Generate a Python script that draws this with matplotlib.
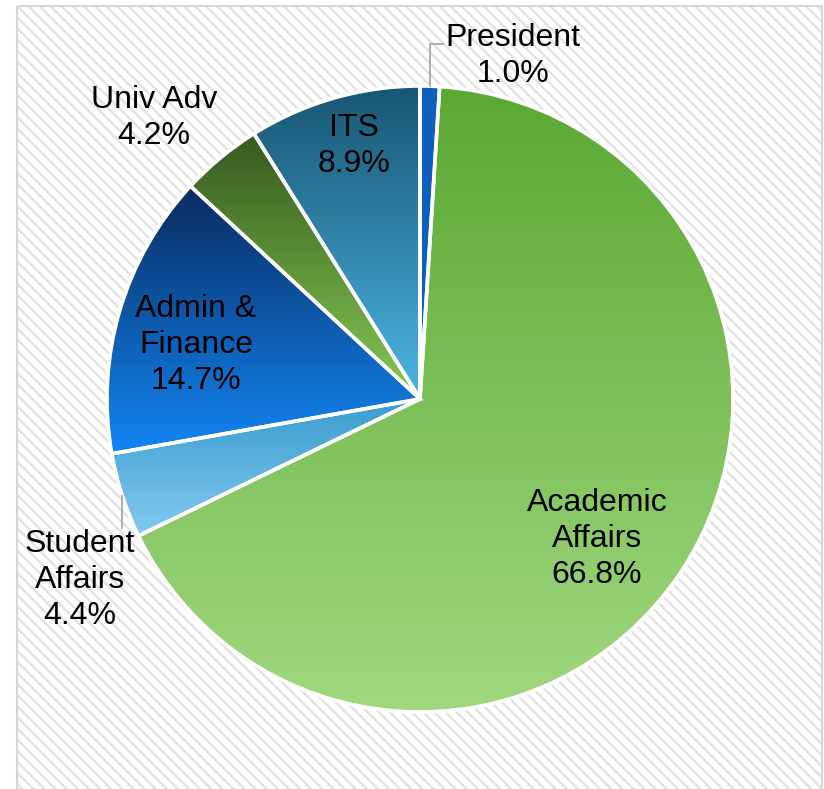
import numpy as np
import matplotlib
matplotlib.use('Agg')
import matplotlib.pyplot as plt
from matplotlib.colors import LinearSegmentedColormap
from matplotlib.patches import Rectangle

plt.rcParams['font.family'] = ['Liberation Sans', 'DejaVu Sans']
plt.rcParams['hatch.linewidth'] = 1.7

# ---- data ----
divisions = ['President', 'Academic Affairs', 'Student Affairs',
             'Admin & Finance', 'Univ Adv', 'ITS']
shares = [1.0, 66.8, 4.4, 14.7, 4.2, 8.9]
label_names = ['President', 'Academic\nAffairs', 'Student\nAffairs',
               'Admin &\nFinance', 'Univ Adv', 'ITS']

# gradient colours (top -> bottom of each slice)
top_colors = ['#0f5fbf', '#5aa832', '#3a9ccf', '#0a2c60', '#365a1e', '#185673']
bottom_colors = ['#0f5fbf', '#a0d87f', '#82caee', '#1286f5', '#86ca55', '#4cb6e4']

# label centres in pixel coordinates (layout)
label_pos = [(513, 56), (597, 539), (80, 580), (196, 345), (154, 118), (354, 146)]

W, H = 824, 789
fig = plt.figure(figsize=(W / 100, H / 100), dpi=100)

# background frame with diagonal hatch
bg = fig.add_axes([0, 0, 1, 1])
bg.set_xlim(0, W)
bg.set_ylim(H, 0)
bg.axis('off')
bg.add_patch(Rectangle((17, 6), 805, 800, facecolor='white', edgecolor='#e2e2e2',
                       linewidth=0, hatch='\\\\\\'))
bg.add_patch(Rectangle((17, 6), 805, 800, facecolor='none', edgecolor='#d6d6d6',
                       linewidth=1.5))

# pie axes
cx, cy, R = 420, 399, 313
ax = fig.add_axes([(cx - R) / W, 1 - (cy + R) / H, 2 * R / W, 2 * R / H])
wedges, _ = ax.pie(shares, startangle=90, counterclock=False, radius=1,
                   wedgeprops=dict(linewidth=2.6, edgecolor='white'))
ax.patch.set_visible(False)

for w, c0, c1 in zip(wedges, top_colors, bottom_colors):
    ext = w.get_path().get_extents()
    cmap = LinearSegmentedColormap.from_list('g', [c0, c1])
    grad = np.linspace(0, 1, 256).reshape(-1, 1)
    im = ax.imshow(grad, cmap=cmap, extent=[ext.x0, ext.x1, ext.y0, ext.y1],
                   origin='upper', aspect='auto', zorder=0.5, interpolation='bilinear')
    im.set_clip_path(w)
    w.set_facecolor('none')
    w.set_zorder(1)

ax.set_xlim(-1, 1)
ax.set_ylim(-1, 1)
ax.axis('off')

# overlay for labels
ov = fig.add_axes([0, 0, 1, 1])
ov.set_xlim(0, W)
ov.set_ylim(H, 0)
ov.axis('off')
ov.patch.set_visible(False)

for name, val, (x, y) in zip(label_names, shares, label_pos):
    ov.text(x, y, f'{name}\n{val:.1f}%', ha='center', va='center',
            fontsize=23, linespacing=1.24, color='black')

# leader lines
cum = np.cumsum([0] + shares[:-1])
mids = [(c + s / 2) / 100 * 2 * np.pi for c, s in zip(cum, shares)]
# President
a = mids[0]
ex, ey = cx + R * np.sin(a), cy - R * np.cos(a)
ov.plot([443, ex, ex], [44, 44, ey], color='#a6a6a6', lw=1.3)
# Student Affairs
a = mids[2]
ex, ey = cx + R * np.sin(a), cy - R * np.cos(a)
ov.plot([ex, ex], [ey, 528], color='#a6a6a6', lw=1.3)

fig.savefig('out.png', dpi=100)
